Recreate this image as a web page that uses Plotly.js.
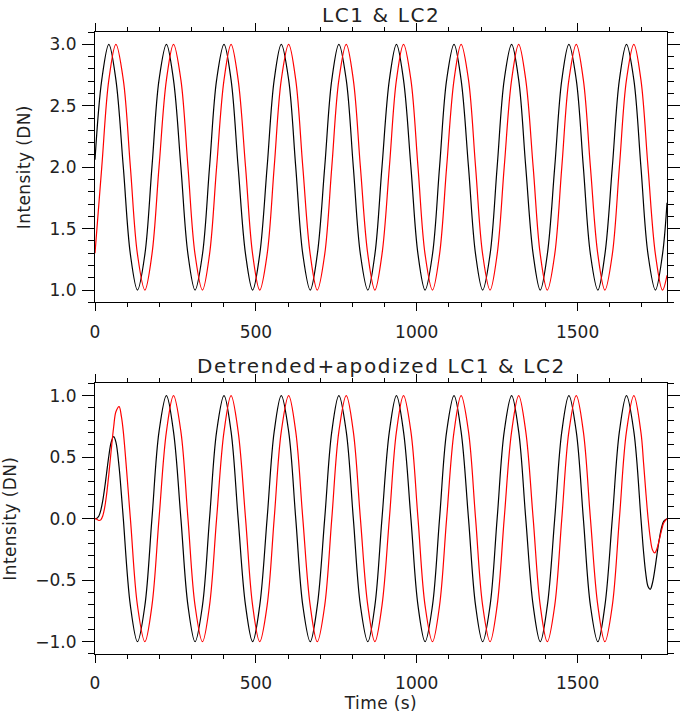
<!DOCTYPE html>
<html>
<head>
<meta charset="utf-8">
<script src="https://cdn.plot.ly/plotly-3.0.1.min.js"></script>
<style>
  html, body { margin: 0; padding: 0; background: #fff; }
  #chart { width: 685px; height: 715px; }
  .annotation-text { letter-spacing: 1.6px; }
  .ytitle, .y2title, .x2title { letter-spacing: 0.4px; }
</style>
</head>
<body>
<div id="chart"></div>
<script>
// ---- Top panel: raw light curves (time in s, intensity in DN) ----
const timeTop = [
  0, 21, 43, 65, 88, 110, 132, 155,
  177, 199, 222, 244, 267, 289, 311, 334,
  356, 378, 401, 423, 445, 468, 490, 512,
  535, 557, 579, 602, 624, 646, 669, 691,
  714, 736, 758, 781, 803, 825, 848, 870,
  892, 915, 937, 959, 982, 1004, 1026, 1049,
  1071, 1093, 1116, 1138, 1161, 1183, 1205, 1228,
  1250, 1272, 1295, 1317, 1339, 1362, 1384, 1406,
  1429, 1451, 1473, 1496, 1518, 1540, 1563, 1585,
  1608, 1630, 1652, 1675, 1697, 1719, 1742, 1764,
  1778
];
const lc1 = [
  2.06, 2.71, 3.0, 2.71, 2.0, 1.29, 1.0, 1.29,
  2.0, 2.71, 3.0, 2.71, 2.0, 1.29, 1.0, 1.29,
  2.0, 2.71, 3.0, 2.71, 2.0, 1.29, 1.0, 1.29,
  2.0, 2.71, 3.0, 2.71, 2.0, 1.29, 1.0, 1.29,
  2.0, 2.71, 3.0, 2.71, 2.0, 1.29, 1.0, 1.29,
  2.0, 2.71, 3.0, 2.71, 2.0, 1.29, 1.0, 1.29,
  2.0, 2.71, 3.0, 2.71, 2.0, 1.29, 1.0, 1.29,
  2.0, 2.71, 3.0, 2.71, 2.0, 1.29, 1.0, 1.29,
  2.0, 2.71, 3.0, 2.71, 2.0, 1.29, 1.0, 1.29,
  2.0, 2.71, 3.0, 2.71, 2.0, 1.29, 1.0, 1.29,
  1.71
];
const lc2 = [
  1.30, 2.0, 2.71, 3.0, 2.71, 2.0, 1.29, 1.0,
  1.29, 2.0, 2.71, 3.0, 2.71, 2.0, 1.29, 1.0,
  1.29, 2.0, 2.71, 3.0, 2.71, 2.0, 1.29, 1.0,
  1.29, 2.0, 2.71, 3.0, 2.71, 2.0, 1.29, 1.0,
  1.29, 2.0, 2.71, 3.0, 2.71, 2.0, 1.29, 1.0,
  1.29, 2.0, 2.71, 3.0, 2.71, 2.0, 1.29, 1.0,
  1.29, 2.0, 2.71, 3.0, 2.71, 2.0, 1.29, 1.0,
  1.29, 2.0, 2.71, 3.0, 2.71, 2.0, 1.29, 1.0,
  1.29, 2.0, 2.71, 3.0, 2.71, 2.0, 1.29, 1.0,
  1.29, 2.0, 2.71, 3.0, 2.71, 2.0, 1.29, 1.0,
  1.12
];

// ---- Bottom panel: detrended + apodized light curves ----
const timeBottom = [
  0, 6, 12, 18, 24, 30, 36, 43, 50, 58, 65, 75, 82,
  88, 110, 132, 155,
  177, 199, 222, 244, 267, 289, 311, 334,
  356, 378, 401, 423, 445, 468, 490, 512,
  535, 557, 579, 602, 624, 646, 669, 691,
  714, 736, 758, 781, 803, 825, 848, 870,
  892, 915, 937, 959, 982, 1004, 1026, 1049,
  1071, 1093, 1116, 1138, 1161, 1183, 1205, 1228,
  1250, 1272, 1295, 1317, 1339, 1362, 1384, 1406,
  1429, 1451, 1473, 1496, 1518, 1540, 1563, 1585,
  1608, 1630, 1652, 1675,
  1697, 1705, 1712, 1719, 1726, 1733, 1740, 1747, 1754, 1761, 1768, 1778
];
const lc1Apod = [
  0, 0.003, 0.022, 0.068, 0.144, 0.249, 0.369, 0.509, 0.618, 0.666, 0.622, 0.417, 0.199,
  0, -0.707, -1, -0.707,
  0, 0.707, 1, 0.707, 0, -0.707, -1, -0.707,
  0, 0.707, 1, 0.707, 0, -0.707, -1, -0.707,
  0, 0.707, 1, 0.707, 0, -0.707, -1, -0.707,
  0, 0.707, 1, 0.707, 0, -0.707, -1, -0.707,
  0, 0.707, 1, 0.707, 0, -0.707, -1, -0.707,
  0, 0.707, 1, 0.707, 0, -0.707, -1, -0.707,
  0, 0.707, 1, 0.707, 0, -0.707, -1, -0.707,
  0, 0.707, 1, 0.707, 0, -0.707, -1, -0.707,
  0, 0.707, 1, 0.707,
  0, -0.267, -0.446, -0.551, -0.574, -0.521, -0.417, -0.288, -0.167, -0.074, -0.020, 0
];
const lc2Apod = [
  0, -0.006, -0.015, -0.010, 0.022, 0.089, 0.195, 0.360, 0.547, 0.745, 0.869, 0.911, 0.831,
  0.707, 0, -0.707, -1,
  -0.707, 0, 0.707, 1, 0.707, 0, -0.707, -1,
  -0.707, 0, 0.707, 1, 0.707, 0, -0.707, -1,
  -0.707, 0, 0.707, 1, 0.707, 0, -0.707, -1,
  -0.707, 0, 0.707, 1, 0.707, 0, -0.707, -1,
  -0.707, 0, 0.707, 1, 0.707, 0, -0.707, -1,
  -0.707, 0, 0.707, 1, 0.707, 0, -0.707, -1,
  -0.707, 0, 0.707, 1, 0.707, 0, -0.707, -1,
  -0.707, 0, 0.707, 1, 0.707, 0, -0.707, -1,
  -0.707, 0, 0.707, 1,
  0.701, 0.457, 0.222, 0.007, -0.158, -0.254, -0.278, -0.243, -0.173, -0.095, -0.034, 0
];

const titles = ['LC1 &amp; LC2', 'Detrended+apodized LC1 &amp; LC2'];
const yLabel = 'Intensity (DN)';
const xLabel = 'Time (s)';

const lineCommon = { shape: 'spline', smoothing: 1, width: 1.2 };

const traces = [
  { x: timeTop, y: lc1, xaxis: 'x', yaxis: 'y', mode: 'lines', line: Object.assign({ color: '#000000' }, lineCommon), hoverinfo: 'skip' },
  { x: timeTop, y: lc2, xaxis: 'x', yaxis: 'y', mode: 'lines', line: Object.assign({ color: '#ff0000' }, lineCommon), hoverinfo: 'skip' },
  { x: timeBottom, y: lc1Apod, xaxis: 'x2', yaxis: 'y2', mode: 'lines', line: Object.assign({ color: '#000000' }, lineCommon), hoverinfo: 'skip' },
  { x: timeBottom, y: lc2Apod, xaxis: 'x2', yaxis: 'y2', mode: 'lines', line: Object.assign({ color: '#ff0000' }, lineCommon), hoverinfo: 'skip' }
];

const tickFont = { family: 'DejaVu Sans', size: 17, color: '#222' };
const titleFont = { family: 'DejaVu Sans', size: 17, color: '#222' };
function xAxis(extra) {
  return Object.assign({
    range: [0, 1778], dtick: 500, tick0: 0,
    showline: true, linecolor: '#000', linewidth: 1, mirror: 'allticks',
    ticks: 'outside', ticklen: 8, tickwidth: 1, tickcolor: '#000',
    minor: { dtick: 100, ticks: 'outside', ticklen: 4, tickwidth: 1, tickcolor: '#000' },
    showgrid: false, zeroline: false, tickfont: tickFont, ticklabelstandoff: 6,
    fixedrange: true
  }, extra);
}
function yAxis(extra) {
  return Object.assign({
    dtick: 0.5, tickformat: '.1f',
    showline: true, linecolor: '#000', linewidth: 1, mirror: 'allticks',
    ticks: 'outside', ticklen: 12, tickwidth: 1, tickcolor: '#000',
    minor: { dtick: 0.1, ticks: 'outside', ticklen: 6, tickwidth: 1, tickcolor: '#000' },
    showgrid: false, zeroline: false, tickfont: tickFont, ticklabelstandoff: 2,
    fixedrange: true
  }, extra);
}

const layout = {
  width: 685, height: 715,
  margin: { l: 95, r: 18, t: 32, b: 61, pad: 0 },
  paper_bgcolor: '#fff', plot_bgcolor: '#fff',
  showlegend: false,
  font: { family: 'DejaVu Sans', size: 17, color: '#222' },
  xaxis: xAxis({ anchor: 'y', domain: [0, 1] }),
  yaxis: yAxis({ anchor: 'x', domain: [0.5654, 1], range: [0.9, 3.1], tick0: 1,
                 title: { text: yLabel, font: titleFont, standoff: 14 } }),
  xaxis2: xAxis({ anchor: 'y2', domain: [0, 1],
                  title: { text: xLabel, font: titleFont, standoff: 4 } }),
  yaxis2: yAxis({ anchor: 'x2', domain: [0, 0.4352], range: [-1.1, 1.1], tick0: 0,
                  title: { text: yLabel, font: titleFont, standoff: 14 } }),
  annotations: [
    { text: titles[0], xref: 'paper', yref: 'paper', x: 0.5, y: 1.0268, xanchor: 'center', yanchor: 'middle',
      showarrow: false, font: { family: 'DejaVu Sans', size: 20, color: '#222' } },
    { text: titles[1], xref: 'paper', yref: 'paper', x: 0.5, y: 0.4625, xanchor: 'center', yanchor: 'middle',
      showarrow: false, font: { family: 'DejaVu Sans', size: 20, color: '#222' } }
  ]
};

Plotly.newPlot('chart', traces, layout, { displayModeBar: false, staticPlot: true });
</script>
</body>
</html>
